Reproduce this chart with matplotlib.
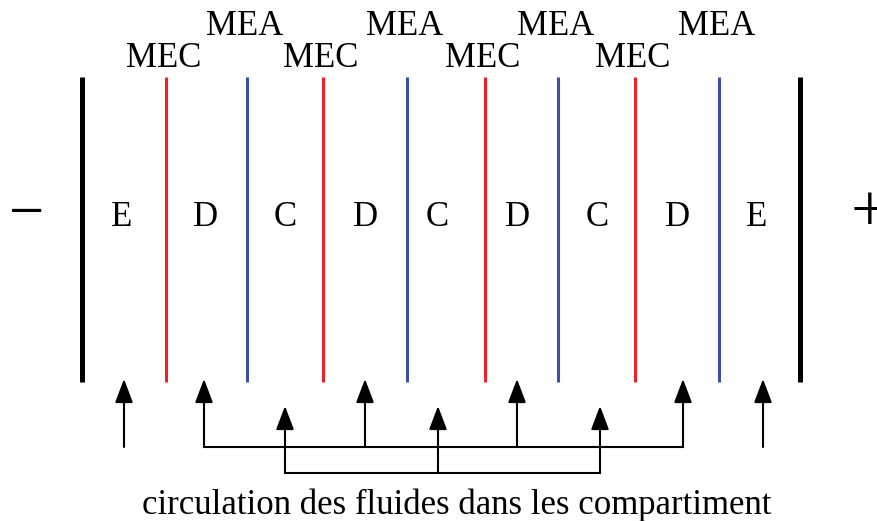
import matplotlib.pyplot as plt

# positions in picture pixels (x from left, y from top)
electrode_x = [82, 800]
membrane_x = [166, 247, 323, 407, 485, 558, 635, 719]
membrane_type = ['MEC', 'MEA', 'MEC', 'MEA', 'MEC', 'MEA', 'MEC', 'MEA']
compart_x = [122, 206, 285, 365, 437, 517, 597, 677, 757]
compart_label = ['E', 'D', 'C', 'D', 'C', 'D', 'C', 'D', 'E']

# arrows: x, tip y, tail y
arrow_x = [124, 204, 285, 365, 438, 517, 600, 683, 763]
arrow_tip = [379, 379, 406, 379, 406, 379, 406, 379, 379]
arrow_tail = [447, 447, 473, 447, 473, 447, 473, 447, 447]
# collectors: y, x start, x end
collector_y = [447, 473]
collector_x0 = [204, 285]
collector_x1 = [683, 600]

colors = {'MEC': '#ec2227', 'MEA': '#3b4fa6'}
label_base = {'MEC': 67, 'MEA': 35}

plt.rcParams['font.family'] = ['Liberation Serif', 'DejaVu Serif']

fig = plt.figure(figsize=(8.77, 5.21), dpi=100)
ax = fig.add_axes([0, 0, 1, 1])
ax.set_xlim(0, 877)
ax.set_ylim(521, 0)
ax.axis('off')

top, bottom = 77, 382
for x in electrode_x:
    ax.plot([x, x], [top, bottom], color='black', lw=3.6, solid_capstyle='butt')
for x, t in zip(membrane_x, membrane_type):
    ax.plot([x, x], [top, bottom], color=colors[t], lw=2.2, solid_capstyle='butt')
    ax.text(x - 2, label_base[t], t, ha='center', va='baseline', fontsize=25)

for x, lab in zip(compart_x, compart_label):
    ax.text(x, 226, lab, ha='center', va='baseline', fontsize=25)

ax.text(27, 216, '\u2212', ha='center', va='center', fontsize=45)
ax.text(869, 214, '+', ha='center', va='center', fontsize=48)

for x, tip, tail in zip(arrow_x, arrow_tip, arrow_tail):
    ax.annotate('', xy=(x, tip), xytext=(x, tail),
                arrowprops=dict(arrowstyle='-|>,head_length=1.45,head_width=0.55',
                                color='black', lw=1.5, shrinkA=0, shrinkB=0))
for y, x0, x1 in zip(collector_y, collector_x0, collector_x1):
    ax.plot([x0, x1], [y, y], color='black', lw=1.5)

ax.text(457, 514, 'circulation des fluides dans les compartiment',
        ha='center', va='baseline', fontsize=25)

plt.savefig('out.png', dpi=100)
